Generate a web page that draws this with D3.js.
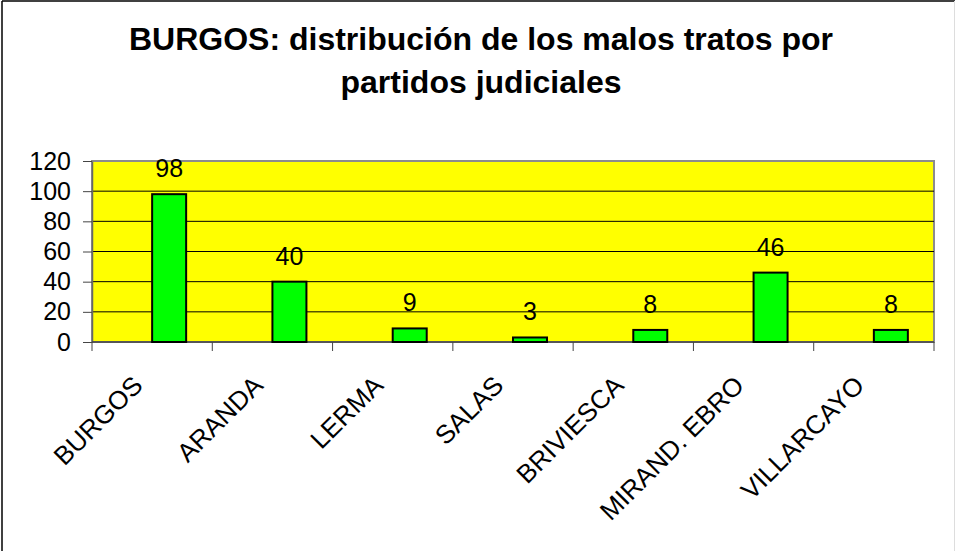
<!DOCTYPE html>
<html>
<head>
<meta charset="utf-8">
<script src="https://cdn.jsdelivr.net/npm/d3@7"></script>
<style>
  body { margin: 0; background: #fff; }
  svg { display: block; font-family: "Liberation Sans", Arial, sans-serif; }
</style>
</head>
<body>
<svg id="chart" width="955" height="551"></svg>
<script>
const titleLines = ["BURGOS: distribución de los malos tratos por", "partidos judiciales"];
const partidos = ["BURGOS", "ARANDA", "LERMA", "SALAS", "BRIVIESCA", "MIRAND. EBRO", "VILLARCAYO"];
const casos = [98, 40, 9, 3, 8, 46, 8];
const yTicks = [0, 20, 40, 60, 80, 100, 120];

// plot area
const plotLeft = 92, plotRight = 934, plotTop = 161, plotBottom = 342;
const barWidth = 34;

const svg = d3.select("#chart");

// outer frame
svg.append("line").attr("x1", 2).attr("y1", 1).attr("x2", 2).attr("y2", 551)
    .attr("stroke", "#000").attr("stroke-width", 1.5);
svg.append("line").attr("x1", 2).attr("y1", 1).attr("x2", 955).attr("y2", 1)
    .attr("stroke", "#000").attr("stroke-width", 1.5);
svg.append("line").attr("x1", 954.5).attr("y1", 1).attr("x2", 954.5).attr("y2", 551)
    .attr("stroke", "#ddd").attr("stroke-width", 1);

// title
svg.append("text")
    .attr("x", 481)
    .attr("y", 50)
    .attr("text-anchor", "middle")
    .style("font-size", "32px")
    .style("font-weight", "bold")
    .selectAll("tspan")
    .data(titleLines)
    .join("tspan")
    .attr("x", 481)
    .attr("dy", (d, i) => i ? 43 : 0)
    .text(d => d);

const x = d3.scaleBand()
    .domain(partidos)
    .range([plotLeft, plotRight])
    .padding(0);

const y = d3.scaleLinear()
    .domain([0, 120])
    .range([plotBottom, plotTop]);

// yellow plot background with grey frame
svg.append("rect")
    .attr("x", plotLeft).attr("y", plotTop)
    .attr("width", plotRight - plotLeft).attr("height", plotBottom - plotTop)
    .attr("fill", "#ffff00")
    .attr("stroke", "#8c8c8c")
    .attr("stroke-width", 2);

// gridlines
svg.append("g")
    .selectAll("line")
    .data(yTicks.filter(t => t > 0 && t < 120))
    .join("line")
    .attr("x1", plotLeft).attr("x2", plotRight)
    .attr("y1", d => y(d)).attr("y2", d => y(d))
    .attr("stroke", "#000")
    .attr("stroke-width", 1);

// y axis
const yAxis = svg.append("g")
    .attr("transform", "translate(" + plotLeft + ",0)")
    .call(d3.axisLeft(y).tickValues(yTicks).tickSize(9).tickSizeOuter(0).tickPadding(12));
yAxis.select(".domain").attr("stroke", "#666").attr("stroke-width", 1.5);
yAxis.selectAll(".tick line").attr("stroke", "#444");
yAxis.selectAll(".tick text")
    .style("font-size", "25px")
    .style("font-family", "'Liberation Sans', Arial, sans-serif")
    .attr("fill", "#000");

// x axis (ticks on band edges)
const xAxisG = svg.append("g");
xAxisG.append("line")
    .attr("x1", plotLeft).attr("x2", plotRight)
    .attr("y1", plotBottom).attr("y2", plotBottom)
    .attr("stroke", "#444").attr("stroke-width", 1.5);
xAxisG.selectAll(".xtick")
    .data(partidos.concat(["end"]))
    .join("line")
    .classed("xtick", true)
    .attr("x1", (d, i) => plotLeft + i * x.bandwidth())
    .attr("x2", (d, i) => plotLeft + i * x.bandwidth())
    .attr("y1", plotBottom).attr("y2", plotBottom + 9)
    .attr("stroke", "#444");

// bars
svg.append("g")
    .selectAll("rect")
    .data(casos)
    .join("rect")
    .attr("x", (d, i) => x(partidos[i]) + x.bandwidth() / 2)
    .attr("y", d => y(d))
    .attr("width", barWidth)
    .attr("height", d => y(0) - y(d))
    .attr("fill", "#00ff00")
    .attr("stroke", "#000")
    .attr("stroke-width", 2);

// value labels
svg.append("g")
    .selectAll("text")
    .data(casos)
    .join("text")
    .attr("x", (d, i) => x(partidos[i]) + x.bandwidth() / 2 + barWidth / 2)
    .attr("y", d => y(d) - 17)
    .attr("text-anchor", "middle")
    .style("font-size", "25px")
    .text(d => d);

// rotated category labels
svg.append("g")
    .selectAll("text")
    .data(partidos)
    .join("text")
    .attr("transform", d => "translate(" + (x(d) + x.bandwidth() / 2 - 8) + ",387) rotate(-45)")
    .attr("text-anchor", "end")
    .style("font-size", "26px")
    .text(d => d);
</script>
</body>
</html>
